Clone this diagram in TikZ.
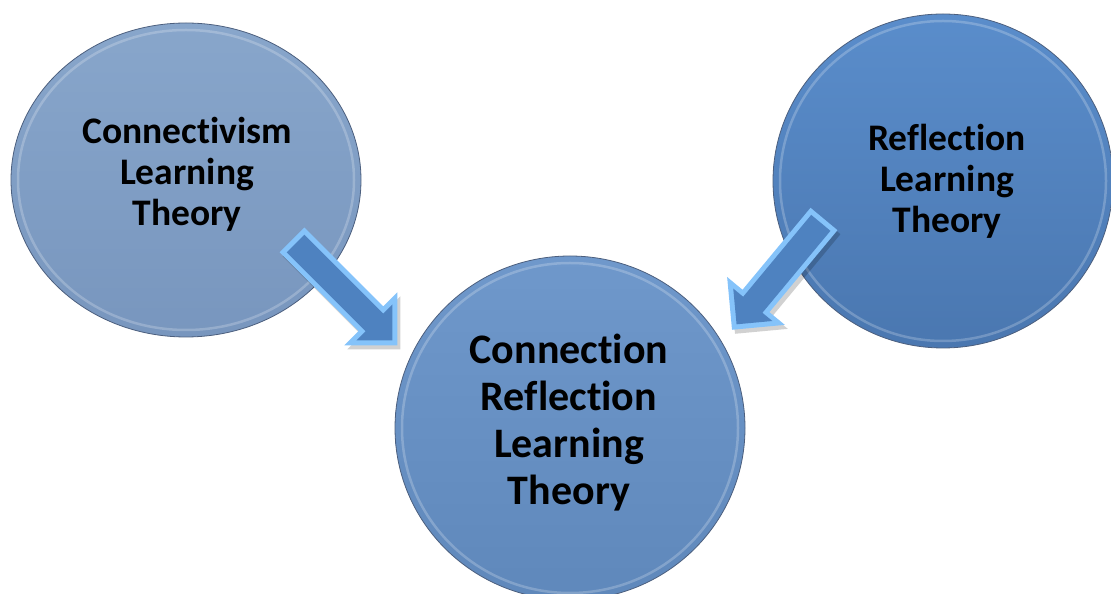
\documentclass[tikz,border=0pt]{standalone}
\usepackage{fontspec}
\setmainfont{Carlito}[Ligatures={NoCommon,NoContextual}]
\usetikzlibrary{shapes.geometric,calc}
\definecolor{leftTop}{HTML}{88A6CB}
\definecolor{leftBot}{HTML}{7896BE}
\definecolor{midTop}{HTML}{6F98CB}
\definecolor{midBot}{HTML}{5F88BB}
\definecolor{rightTop}{HTML}{5A8DCB}
\definecolor{rightBot}{HTML}{4A77B0}
\definecolor{rimc}{HTML}{4C5F7E}
\definecolor{arrowLight}{HTML}{85C3FA}
\definecolor{arrowFace}{HTML}{4E82C0}
\tikzset{
  bubble/.style n args={2}{ellipse, inner sep=0pt, top color=#1, bottom color=#2, draw=rimc, line width=0.8pt},
  rim/.style={draw=white, opacity=0.22, line width=2.5pt},
  sidetext/.style={align=center, font=\bfseries\fontsize{37.5}{41}\selectfont, text=black},
  midtext/.style={align=center, font=\bfseries\fontsize{42}{47}\selectfont, text=black},
  arrowshadow/.style={fill=black, opacity=0.18},
}
\newcommand{\bevelarrow}[3]{%
  \begin{scope}[shift={($(#1)+(3,-4)$)}, rotate=#2]
    \fill[arrowshadow] (0,-17.5) -- (#3-37.5,-17.5) -- (#3-37.5,-37.5) -- (#3,0) -- (#3-37.5,37.5) -- (#3-37.5,17.5) -- (0,17.5) -- cycle;
  \end{scope}
  \begin{scope}[shift={(#1)}, rotate=#2]
    \fill[arrowLight] (0,-17.5) -- (#3-37.5,-17.5) -- (#3-37.5,-37.5) -- (#3,0) -- (#3-37.5,37.5) -- (#3-37.5,17.5) -- (0,17.5) -- cycle;
    \fill[arrowFace] (5,-12.5) -- (#3-32.5,-12.5) -- (#3-32.5,-25.4) -- (#3-7.1,0) -- (#3-32.5,25.4) -- (#3-32.5,12.5) -- (5,12.5) -- cycle;
  \end{scope}}
\begin{document}
\begin{tikzpicture}[x=1pt,y=1pt]
\useasboundingbox (0,0) rectangle (1111,594);
% circles
\node[bubble={leftTop}{leftBot}, minimum width=350pt, minimum height=314pt] (c1) at (186,414) {};
\draw[rim] (c1.center) ellipse [x radius=168, y radius=150];
\node[bubble={rightTop}{rightBot}, minimum width=340pt, minimum height=334pt] (c3) at (943,413) {};
\draw[rim] (c3.center) ellipse [x radius=163, y radius=160];
\node[bubble={midTop}{midBot}, minimum width=350pt, minimum height=344pt] (c2) at (570,166) {};
\draw[rim] (c2.center) ellipse [x radius=168, y radius=165];
% texts
\node[sidetext] (t1) at (187,420) {Connectivism\\Learning\\Theory};
\node[sidetext] (t3) at (947,413) {Reflection\\Learning\\Theory};
\node[midtext] (t2) at (569,171) {Connection\\Reflection\\Learning\\Theory};
% arrows
\coordinate (a1t) at (292,354);
\coordinate (a3t) at (824,375);
\bevelarrow{a1t}{-45}{149}
\bevelarrow{a3t}{-129.7}{144}
\end{tikzpicture}
\end{document}
